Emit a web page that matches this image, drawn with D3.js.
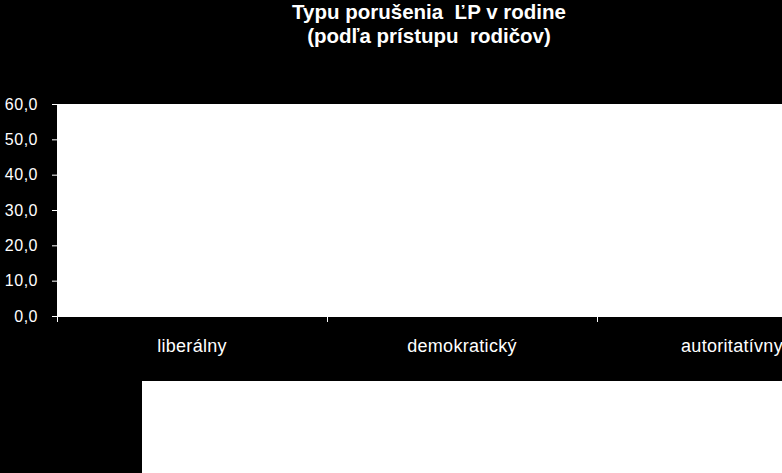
<!DOCTYPE html>
<html>
<head>
<meta charset="utf-8">
<script src="https://cdn.jsdelivr.net/npm/d3@7"></script>
<style>
  html, body { margin: 0; padding: 0; background: #000; }
  svg { display: block; }
  text { font-family: "Liberation Sans", Arial, sans-serif; fill: #fff; }
</style>
</head>
<body>
<script>
var categories = ['liberálny', 'demokratický', 'autoritatívny'],
    yTicks     = [0, 10, 20, 30, 40, 50, 60],
    titleLines = ['Typu porušenia  ĽP v rodine', '(podľa prístupu  rodičov)'],
    // no bars are visible in the picture, so no series values are kept
    seriesNames  = [],
    seriesValues = [];

var
  width  = 782,
  height = 473,
  plot   = {left: 57, right: 867, top: 104, bottom: 316},
  locale = d3.formatLocale({decimal: ',', thousands: ' ', grouping: [3], currency: ['', '']}),
  fmt    = locale.format('.1f'),
  x      = d3.scaleBand()
              .domain(categories)
              .range([plot.left, plot.right]),
  y      = d3.scaleLinear()
              .domain([0, 60])
              .range([plot.bottom, plot.top]),
  svg    = d3.select('body')
              .append('svg')
              .attr('width', width)
              .attr('height', height)
              .attr('viewBox', [0, 0, width, height].join(' '));

svg.append('rect')
    .attr('width', width)
    .attr('height', height)
    .attr('fill', '#000');

// title
svg.append('g')
    .selectAll('text')
    .data(titleLines)
    .enter()
    .append('text')
    .attr('x', 429)
    .attr('y', function (d, i) { return 19 + i * 24; })
    .attr('text-anchor', 'middle')
    .style('font-size', '20.5px')
    .style('font-weight', 'bold')
    .style('white-space', 'pre')
    .text(function (d) { return d; });

// plot area
svg.append('rect')
    .attr('x', plot.left)
    .attr('y', plot.top)
    .attr('width', plot.right - plot.left)
    .attr('height', plot.bottom - plot.top)
    .attr('fill', '#fff');

// bars (none visible)
var group = svg.append('g')
    .selectAll('g')
    .data(seriesValues)
    .enter()
    .append('g');

// y axis
var yAxis = svg.append('g')
    .attr('transform', 'translate(' + plot.left + ',0)')
    .call(d3.axisLeft(y).tickValues(yTicks).tickSize(5).tickPadding(14).tickFormat(fmt));
yAxis.select('.domain').attr('stroke', '#fff');
yAxis.selectAll('.tick line').attr('stroke', '#fff');
yAxis.selectAll('.tick text')
    .attr('fill', '#fff')
    .style('font-size', '16px')
    .style('letter-spacing', '0.5px')
    .style('font-family', '"Liberation Sans", Arial, sans-serif');

// x axis
var xAxis = svg.append('g')
    .attr('transform', 'translate(0,' + plot.bottom + ')')
    .call(d3.axisBottom(x).tickSize(0).tickPadding(23));
xAxis.select('.domain').attr('stroke', '#fff');
xAxis.selectAll('.tick text')
    .attr('fill', '#fff')
    .style('font-size', '18px')
    .style('letter-spacing', '0.3px')
    .style('font-family', '"Liberation Sans", Arial, sans-serif');

svg.append('g')
    .selectAll('line')
    .data(categories.map(function (c) { return x(c); }).concat([x.range()[1]]))
    .enter()
    .append('line')
    .attr('x1', function (d) { return d + 0.5; })
    .attr('x2', function (d) { return d + 0.5; })
    .attr('y1', plot.bottom)
    .attr('y2', plot.bottom + 6)
    .attr('stroke', '#fff');

// legend box
svg.append('rect')
    .attr('x', 142)
    .attr('y', 381)
    .attr('width', 700)
    .attr('height', 120)
    .attr('fill', '#fff');

svg.append('g')
    .selectAll('text')
    .data(seriesNames)
    .enter()
    .append('text')
    .text(function (d) { return d; });
</script>
</body>
</html>
